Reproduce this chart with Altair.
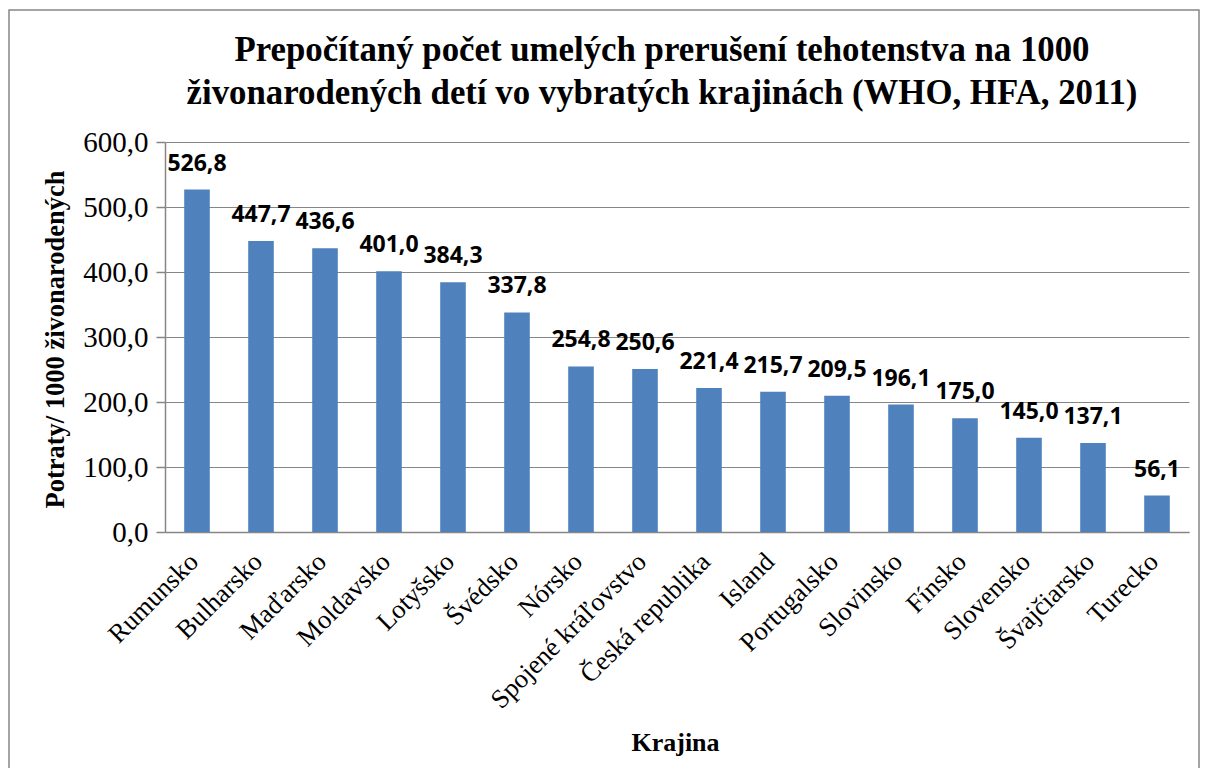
import altair as alt
import pandas as pd

countries = ["Rumunsko", "Bulharsko", "Maďarsko", "Moldavsko", "Lotyšsko", "Švédsko",
             "Nórsko", "Spojené kráľovstvo", "Česká republika", "Island", "Portugalsko",
             "Slovinsko", "Fínsko", "Slovensko", "Švajčiarsko", "Turecko"]
values = [526.8, 447.7, 436.6, 401.0, 384.3, 337.8, 254.8, 250.6, 221.4, 215.7, 209.5,
          196.1, 175.0, 145.0, 137.1, 56.1]
y_ticks = [0, 100, 200, 300, 400, 500, 600]
title_lines = ["Prepočítaný počet umelých prerušení tehotenstva na 1000",
               "živonarodených detí vo vybratých krajinách (WHO, HFA, 2011)"]

df = pd.DataFrame({"Krajina": countries, "Hodnota": values})
df["label"] = [f"{v:.1f}".replace(".", ",") for v in values]
one = pd.DataFrame({"a": [0]})

SERIF = "Liberation Serif"
GRAY = "#868686"

x_enc = alt.X("Krajina:N", sort=countries,
              scale=alt.Scale(paddingInner=0.6, paddingOuter=0.3),
              axis=alt.Axis(title="Krajina", labelAngle=-45, labelFont=SERIF, labelFontSize=26.5,
                            labelColor="black", labelPadding=16, labelOffset=-12, labelLimit=0,
                            ticks=False, domainColor=GRAY, domainWidth=1.5,
                            titleFont=SERIF, titleFontSize=26, titleFontWeight="bold",
                            titleColor="black", titleX=510, titleY=218,
                            titleBaseline="alphabetic", titleAlign="center"))
y_enc = alt.Y("Hodnota:Q", scale=alt.Scale(domain=[0, 600]),
              axis=alt.Axis(title="Potraty/ 1000 živonarodených", values=y_ticks,
                            labelExpr="replace(format(datum.value, '.1f'), '.', ',')",
                            labelFont=SERIF, labelFontSize=29, labelColor="black",
                            labelPadding=8, tickSize=9, tickColor=GRAY, tickWidth=1.5,
                            domainColor=GRAY, domainWidth=1.5,
                            gridColor=GRAY, gridWidth=1.2,
                            titleFont=SERIF, titleFontSize=26.5, titleFontWeight="bold",
                            titleColor="black", titleAngle=-90, titleX=-102, titleY=197,
                            titleBaseline="alphabetic", titleAlign="center"))

bars = alt.Chart(df).mark_bar(color="#4F81BD").encode(x=x_enc, y=y_enc)

labels = alt.Chart(df).mark_text(font="Open Sans", fontWeight="bold", fontSize=23,
                                 baseline="alphabetic", dy=-19, color="black").encode(
    x=alt.X("Krajina:N", sort=countries), y="Hodnota:Q", text="label:N")

border = alt.Chart(one).mark_rect(fill=None, stroke=GRAY, strokeWidth=1.5).encode(
    x=alt.value(-156), x2=alt.value(1034), y=alt.value(-132), y2=alt.value(800))

title = alt.Chart(one).mark_text(text=title_lines, font=SERIF, fontSize=34.8, fontWeight="bold",
                                 color="black", align="center", baseline="alphabetic",
                                 lineHeight=43).encode(
    x=alt.value(497), y=alt.value(-81))

chart = alt.layer(border, title, bars, labels).properties(
    width=1024, height=390,
    autosize=alt.AutoSizeParams(type="none"),
    padding={"left": 157, "top": 134, "right": 11, "bottom": 236},
).configure_view(stroke=None)

chart.save("out.html", embed_options={"renderer": "svg", "actions": False})
